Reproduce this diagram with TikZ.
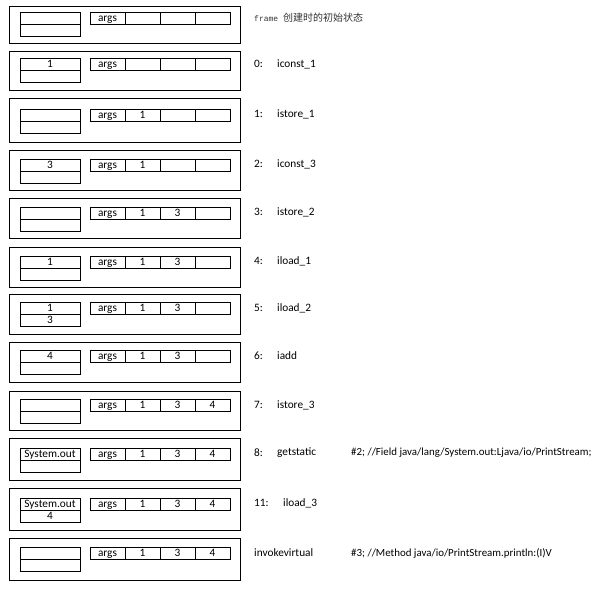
\documentclass[tikz,border=0pt]{standalone}
\usepackage{fontspec}
\setmainfont{Carlito}
\newfontfamily\monofont{Liberation Mono}
\newfontfamily\cjkfont{Noto Sans CJK SC}
\begin{document}
\begin{tikzpicture}[x=1pt,y=-1pt,
  framebox/.style={draw=black,line width=1pt},
  cell/.style={draw=black,line width=0.9pt,inner sep=0pt,outer sep=0pt,anchor=north west,
    minimum height=12pt,text height=8pt,text depth=2pt,font=\fontsize{11.3}{12}\selectfont},
  stackcell/.style={cell,minimum width=60pt},
  localcell/.style={cell,minimum width=35pt},
  lbl/.style={anchor=west,inner sep=0pt,font=\fontsize{11.3}{12}\selectfont}]
\useasboundingbox (0,0) rectangle (604,589);
\newcommand\jframe[9]{%
  \node[framebox,inner sep=0pt,outer sep=0pt,anchor=north west,minimum width=231pt,minimum height={#3-#2}] (f#1) at (9,#2) {};
  \node[stackcell] (sa#1) at (20,#4) {#5};
  \node[stackcell] (sb#1) at (sa#1.south west) {#6};
  \node[localcell] (la#1) at (90,#4) {args};
  \node[localcell] (lb#1) at (la#1.north east) {#7};
  \node[localcell] (lc#1) at (lb#1.north east) {#8};
  \node[localcell] (ld#1) at (lc#1.north east) {#9};
}
\jframe{1}{6}{43}{12}{}{}{}{}{}
\jframe{2}{51}{90}{58}{1}{}{}{}{}
\jframe{3}{98}{142}{109}{}{}{1}{}{}
\jframe{4}{150}{190}{159}{3}{}{1}{}{}
\jframe{5}{198}{238}{207}{}{}{1}{3}{}
\jframe{6}{247}{287}{256}{1}{}{1}{3}{}
\jframe{7}{294}{334}{302}{1}{3}{1}{3}{}
\jframe{8}{342}{382}{350}{4}{}{1}{3}{}
\jframe{9}{391}{430}{399}{}{}{1}{3}{4}
\jframe{10}{438}{480}{448}{System.out}{}{1}{3}{4}
\jframe{11}{488}{530}{498}{System.out}{4}{1}{3}{4}
\jframe{12}{538}{580}{547}{}{}{1}{3}{4}

\node[anchor=west,inner sep=0pt,text=black!80] (t1) at (254,18) {\monofont\fontsize{8}{9}\selectfont frame \cjkfont\fontsize{10}{11}\selectfont 创建时的初始状态};
\node[lbl] (n2) at (254,64) {0:};  \node[lbl] (i2) at (277,64) {iconst\_1};
\node[lbl] (n3) at (254,114) {1:}; \node[lbl] (i3) at (277,114) {istore\_1};
\node[lbl] (n4) at (254,164) {2:}; \node[lbl] (i4) at (277,164) {iconst\_3};
\node[lbl] (n5) at (254,212) {3:}; \node[lbl] (i5) at (277,212) {istore\_2};
\node[lbl] (n6) at (254,261) {4:}; \node[lbl] (i6) at (277,261) {iload\_1};
\node[lbl] (n7) at (254,308) {5:}; \node[lbl] (i7) at (277,308) {iload\_2};
\node[lbl] (n8) at (254,356) {6:}; \node[lbl] (i8) at (277,356) {iadd};
\node[lbl] (n9) at (254,405) {7:}; \node[lbl] (i9) at (277,405) {istore\_3};
\node[lbl] (n10) at (254,453) {8:}; \node[lbl] (i10) at (277,453) {getstatic};
\node[lbl,font=\fontsize{10.9}{12}\selectfont] (c10) at (351,453) {\#2; //Field java/lang/System.out:Ljava/io/PrintStream;};
\node[lbl] (n11) at (254,503) {11:}; \node[lbl] (i11) at (283,503) {iload\_3};
\node[lbl] (i12) at (254,553) {invokevirtual};
\node[lbl,font=\fontsize{10.9}{12}\selectfont] (c12) at (351,553) {\#3; //Method java/io/PrintStream.println:(I)V};
\end{tikzpicture}
\end{document}
